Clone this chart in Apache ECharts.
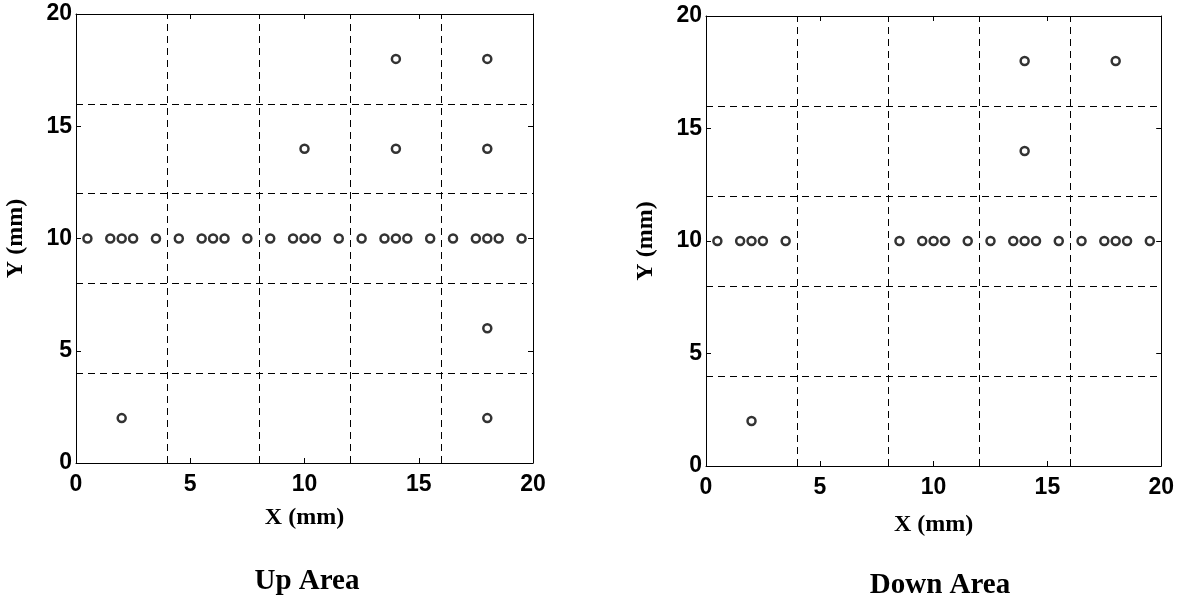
<!DOCTYPE html>
<html>
<head>
<meta charset="utf-8">
<script src="https://cdn.jsdelivr.net/npm/echarts@6/dist/echarts.min.js"></script>
<style>
  html, body { margin: 0; padding: 0; background: #fff; }
  #chart { width: 1177px; height: 610px; }
</style>
</head>
<body>
<div id="chart"></div>
<script>
// point positions in mm
const upPoints = [
  [0.5, 10], [1.5, 10], [2, 10], [2.5, 10], [3.5, 10],
  [4.5, 10], [5.5, 10], [6, 10], [6.5, 10], [7.5, 10],
  [8.5, 10], [9.5, 10], [10, 10], [10.5, 10], [11.5, 10],
  [12.5, 10], [13.5, 10], [14, 10], [14.5, 10], [15.5, 10],
  [16.5, 10], [17.5, 10], [18, 10], [18.5, 10], [19.5, 10],
  [14, 18], [18, 18], [10, 14], [14, 14], [18, 14],
  [18, 6], [2, 2], [18, 2]
]
const downPoints = [
  [0.5, 10], [1.5, 10], [2, 10], [2.5, 10], [3.5, 10],
  [8.5, 10], [9.5, 10], [10, 10], [10.5, 10], [11.5, 10],
  [12.5, 10], [13.5, 10], [14, 10], [14.5, 10], [15.5, 10],
  [16.5, 10], [17.5, 10], [18, 10], [18.5, 10], [19.5, 10],
  [14, 18], [18, 18], [14, 14], [2, 2]
]
const gridLines = [4, 8, 12, 16]
const panelTitles = ["Up Area", "Down Area"]

let myChart = echarts.init(document.getElementById("chart"))

const tickFont = { fontFamily: "Liberation Sans", fontWeight: "bold", fontSize: 23, color: "#000" }
const nameFont = { fontFamily: "Liberation Serif", fontWeight: "bold", fontSize: 24, color: "#000" }
const titleFont = { fontFamily: "Liberation Serif", fontWeight: "bold", fontSize: 29, color: "#000" }

function mainAxis(gridIndex, pos, name, gap) {
  let isX = pos === "bottom"
  return {
    type: "value",
    gridIndex: gridIndex,
    position: pos,
    min: 0,
    max: 20,
    interval: 5,
    name: name,
    nameLocation: "middle",
    nameGap: gap,
    nameTextStyle: nameFont,
    axisLine: { show: true, onZero: false, lineStyle: { color: "#000", width: 1 } },
    axisTick: { show: true, inside: true, length: 5, lineStyle: { color: "#000" } },
    axisLabel: Object.assign({ margin: isX ? 10 : 4 }, tickFont),
    splitLine: { show: false },
  }
}

function boxAxis(gridIndex, pos) {
  return {
    type: "value",
    gridIndex: gridIndex,
    position: pos,
    min: 0,
    max: 20,
    interval: 5,
    axisLine: { show: true, onZero: false, lineStyle: { color: "#000", width: 1 } },
    axisTick: { show: true, inside: true, length: 5, lineStyle: { color: "#000" } },
    axisLabel: { show: false },
    splitLine: { show: false },
  }
}

function panel(idx, points) {
  return {
    type: "scatter",
    xAxisIndex: idx * 2,
    yAxisIndex: idx * 2,
    data: points,
    symbol: "circle",
    symbolSize: 8,
    itemStyle: { color: "rgba(0,0,0,0)", borderColor: "#000", borderWidth: 2.5 },
    markLine: {
      silent: true,
      symbol: ["none", "none"],
      label: { show: false },
      lineStyle: { color: "#000", width: 1, type: [7, 5] },
      data: gridLines.map((v) => ({ xAxis: v })).concat(gridLines.map((v) => ({ yAxis: v }))),
    },
  }
}

myChart.setOption({
  animation: false,
  backgroundColor: "#fff",
  title: [
    { text: panelTitles[0], left: 302, top: 562, textAlign: "center", textStyle: titleFont },
    { text: panelTitles[1], left: 935, top: 566, textAlign: "center", textStyle: titleFont },
  ],
  grid: [
    { left: 76, top: 14, width: 457, height: 449 },
    { left: 706, top: 16, width: 457, height: 450 },
  ],
  xAxis: [
    mainAxis(0, "bottom", "X (mm)", 43),
    boxAxis(0, "top"),
    mainAxis(1, "bottom", "X (mm)", 47),
    boxAxis(1, "top"),
  ],
  yAxis: [
    mainAxis(0, "left", "Y (mm)", 48),
    boxAxis(0, "right"),
    mainAxis(1, "left", "Y (mm)", 48),
    boxAxis(1, "right"),
  ],
  series: [panel(0, upPoints), panel(1, downPoints)],
})
</script>
</body>
</html>
